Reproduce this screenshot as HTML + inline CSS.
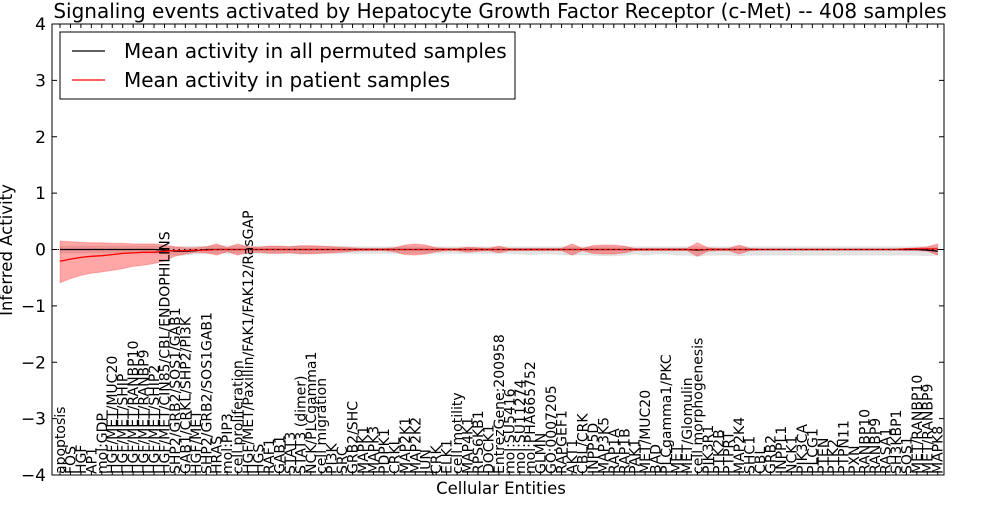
<!DOCTYPE html>
<html><head><meta charset="utf-8"><style>
body{margin:0;background:#fff;}
svg text{font-family:"DejaVu Sans","Liberation Sans",sans-serif;}
</style></head><body>
<svg id="chart" width="1000" height="500" viewBox="0 0 1000 500" xmlns="http://www.w3.org/2000/svg">
<rect width="1000" height="500" fill="#fff"/>
<text x="500" y="18" text-anchor="middle" font-size="20">Signaling events activated by Hepatocyte Growth Factor Receptor (c-Met) -- 408 samples</text>
<g id="bands"></g><g id="lines"></g><g id="axes"></g><g id="xlabels"></g>
<text x="501" y="494" text-anchor="middle" font-size="16.5">Cellular Entities</text>
<text transform="translate(12,250) rotate(-90)" text-anchor="middle" font-size="16.5">Inferred Activity</text>
<g>
<rect x="60" y="32" width="455" height="67" fill="#fff" stroke="#000" stroke-width="1"/>
<g><line x1="72" y1="51" x2="105" y2="51" stroke="#000" stroke-width="1.2"/><text x="124" y="58" font-size="20">Mean activity in all permuted samples</text></g>
<g><line x1="72" y1="80" x2="105" y2="80" stroke="red" stroke-width="1.2"/><text x="124" y="87" font-size="20">Mean activity in patient samples</text></g>
</g>
</svg>
<script>
const categories=["apoptosis","FOS","HGF","AP1","mol:GDP","HGF/MET/MUC20","HGF/MET/SHIP","HGF/MET/RANBP10","HGF/MET/RANBP9","HGF/MET/SHIP2","HGF/MET/CIN85/CBL/ENDOPHILINS","SHP2/GRB2/SOS1/GAB1","GAB1/CRKL/SHP2/PI3K","HGF/MET","SHP2/GRB2/SOS1GAB1","HRAS","mol:PIP3","cell proliferation","HGF/MET/Paxillin/FAK1/FAK12/RasGAP","HGS","RAF1","GAB1","STAT3","STAT3 (dimer)","NCK/PLCgamma1","cell migration","PI3K","SRC","GRB2/SHC","MAPK1","MAPK3","PDPK1","CRKL","MAP2K1","MAP2K2","JUN","CRK","ELK1","cell motility","MAP4K1","RPS6KB1","DOCK1","EntrezGene:200958","mol:SU5416","mol:SU11274","mol:PHA665752","GLMN","GO:0007205","RAPGEF1","AKT1","CBL/CRK","INPP5D","MAP3K5","RAP1A","RAP1B","PAK1","MET/MUC20","BAD","PLCgamma1/PKC","MET","MET/Glomulin","cell morphogenesis","PIK3R1","PTK2B","PTPRT","MAP2K4","SHC1","CBL","GRB2","INPPL1","NCK1","PIK3CA","PLCG1","PTEN","PTK2","PTPN11","PXN","RANBP10","RANBP9","RASA1","SH3KBP1","SOS1","MET/RANBP10","MET/RANBP9","MAPK8"];
const redMean=[-0.21,-0.17,-0.14,-0.12,-0.11,-0.09,-0.07,-0.06,-0.05,-0.05,-0.03,-0.02,-0.02,-0.01,-0.01,0,0,0,0,0,0,0,0,0,0,0,0,0,0,0,0,0,0,0,0,0,0,0,0,0,0,0,0,0,0,0,0,0,0,0,0,0,0,0,0,0,0,0,0,0,0,0,0,0,0,0,0,0,0,0,0,0,0,0,0,0,0,0,0,0,0,0.01,0.01,0.01,0.01];
const redHi=[0.15,0.14,0.13,0.12,0.12,0.11,0.11,0.1,0.1,0.1,0.08,0.05,0.03,0.03,0.05,0.1,0.03,0.1,0.05,0.04,0.06,0.06,0.05,0.07,0.07,0.06,0.05,0.04,0.03,0.02,0.02,0.02,0.03,0.08,0.1,0.08,0.03,0.02,0.02,0.04,0.03,0.02,0.06,0.02,0.02,0.02,0.02,0.02,0.02,0.1,0.02,0.07,0.08,0.08,0.06,0.02,0.02,0.02,0.02,0.02,0.02,0.12,0.03,0.02,0.02,0.08,0.02,0.01,0.01,0.01,0.01,0.01,0.01,0.01,0.01,0.01,0.01,0.01,0.01,0.01,0.01,0.02,0.03,0.05,0.1];
const redLo=[-0.59,-0.52,-0.46,-0.42,-0.4,-0.37,-0.34,-0.3,-0.28,-0.25,-0.2,-0.12,-0.08,-0.05,-0.06,-0.1,-0.04,-0.1,-0.06,-0.05,-0.07,-0.07,-0.06,-0.08,-0.08,-0.07,-0.06,-0.05,-0.03,-0.02,-0.02,-0.02,-0.04,-0.09,-0.1,-0.08,-0.04,-0.02,-0.02,-0.05,-0.03,-0.02,-0.06,-0.02,-0.02,-0.02,-0.02,-0.02,-0.02,-0.1,-0.02,-0.07,-0.08,-0.08,-0.06,-0.02,-0.02,-0.02,-0.02,-0.02,-0.02,-0.12,-0.03,-0.02,-0.02,-0.08,-0.02,-0.01,-0.01,-0.01,-0.01,-0.01,-0.01,-0.01,-0.01,-0.01,-0.01,-0.01,-0.01,-0.01,-0.01,-0.02,-0.02,-0.03,-0.1];
const blackMean=[0,0,0,0,0,0,0,0,0,0,-0.01,-0.03,-0.03,-0.02,0,0,0,0,0,0,0,0,0,0,0,0,0,0,0,0,0,0,0,0,0,0,0,0,0,0,0,0,0,0,0,0,0,0,0,0,0,0,0,0,0,0,0,0,0,0,0,-0.01,0,0,0,0,0,0,0,0,0,0,0,0,0,0,0,0,0,0,0,0,0,-0.01,-0.03];
const blackHi=[0.06,0.06,0.06,0.06,0.06,0.06,0.06,0.06,0.06,0.06,0.06,0.05,0.05,0.06,0.06,0.06,0.07,0.06,0.06,0.06,0.06,0.06,0.06,0.06,0.06,0.06,0.06,0.06,0.05,0.05,0.05,0.05,0.05,0.05,0.05,0.05,0.05,0.05,0.05,0.05,0.05,0.05,0.05,0.05,0.05,0.05,0.05,0.05,0.05,0.05,0.05,0.05,0.05,0.05,0.05,0.05,0.05,0.05,0.05,0.05,0.05,0.05,0.05,0.05,0.05,0.05,0.05,0.05,0.05,0.05,0.05,0.05,0.05,0.05,0.05,0.05,0.05,0.05,0.05,0.05,0.05,0.05,0.05,0.05,0.05];
const blackLo=[-0.06,-0.06,-0.06,-0.06,-0.06,-0.06,-0.06,-0.06,-0.06,-0.07,-0.08,-0.1,-0.1,-0.08,-0.07,-0.07,-0.07,-0.07,-0.07,-0.07,-0.07,-0.07,-0.07,-0.07,-0.07,-0.07,-0.07,-0.07,-0.07,-0.07,-0.07,-0.07,-0.07,-0.07,-0.07,-0.07,-0.07,-0.07,-0.07,-0.07,-0.07,-0.07,-0.07,-0.07,-0.08,-0.09,-0.08,-0.08,-0.09,-0.1,-0.09,-0.1,-0.11,-0.11,-0.1,-0.08,-0.1,-0.08,-0.08,-0.1,-0.1,-0.12,-0.1,-0.1,-0.1,-0.11,-0.1,-0.1,-0.1,-0.1,-0.1,-0.1,-0.1,-0.1,-0.1,-0.1,-0.1,-0.1,-0.1,-0.1,-0.1,-0.1,-0.1,-0.11,-0.1];
const yTicks=[-4,-3,-2,-1,0,1,2,3,4];

const L=52,R=944,T=24,B=475,XMIN=-0.766,XMAX=84.6,YMIN=-4,YMAX=4;
const xs=i=>L+(i-XMIN)*(R-L)/(XMAX-XMIN);
const ys=v=>B-(v-YMIN)*(B-T)/(YMAX-YMIN);
const NS="http://www.w3.org/2000/svg";
function mk(tag,attrs,parent){const e=document.createElementNS(NS,tag);for(const k in attrs)e.setAttribute(k,attrs[k]);parent.appendChild(e);return e;}
const bands=document.getElementById('bands'),lines=document.getElementById('lines'),axes=document.getElementById('axes'),xl=document.getElementById('xlabels');
function band(hi,lo,fill,op,name){let d='';hi.forEach((v,i)=>{d+=(i?'L':'M')+xs(i).toFixed(1)+','+ys(v).toFixed(1);});for(let i=lo.length-1;i>=0;i--)d+='L'+xs(i).toFixed(1)+','+ys(lo[i]).toFixed(1);d+='Z';
const p=mk('path',{d:d,fill:fill,'fill-opacity':op,stroke:fill,'stroke-opacity':op*0.6},bands);

}
band(blackHi,blackLo,'#bbbbbb',0.4,'permuted-band');
band(redHi,redLo,'#ff0000',0.35,'patient-band');
function line(arr,col,name){const pts=arr.map((v,i)=>xs(i).toFixed(1)+','+ys(v).toFixed(1)).join(' ');
const p=mk('polyline',{points:pts,fill:'none',stroke:col,'stroke-width':1.3},lines);

}
line(blackMean,'#000','permuted-mean-line');
line(redMean,'#ff0000','patient-mean-line');
mk('line',{x1:L,x2:R,y1:ys(0),y2:ys(0),stroke:'#000','stroke-width':1,'stroke-dasharray':'1.5,4'},lines);
const frame=mk('rect',{x:L,y:T,width:R-L,height:B-T,fill:'none',stroke:'#000','stroke-width':1},axes);


yTicks.forEach(v=>{const y=ys(v);mk('line',{x1:L,x2:L+5,y1:y,y2:y,stroke:'#000'},axes);mk('line',{x1:R-5,x2:R,y1:y,y2:y,stroke:'#000'},axes);
const t=mk('text',{x:L-6,y:y+6,'text-anchor':'end','font-size':17},axes);t.textContent=(v<0?'\u2212'+(-v):String(v));

});
categories.forEach((c,i)=>{const x=xs(i);mk('line',{x1:x,x2:x,y1:B,y2:B-4,stroke:'#000'},axes);mk('line',{x1:x,x2:x,y1:T,y2:T+4,stroke:'#000'},axes);
const t=mk('text',{transform:'translate('+(x+5).toFixed(1)+','+(B-1)+') rotate(-90)','font-size':14},xl);t.textContent=c;

});
</script>
</body></html>
